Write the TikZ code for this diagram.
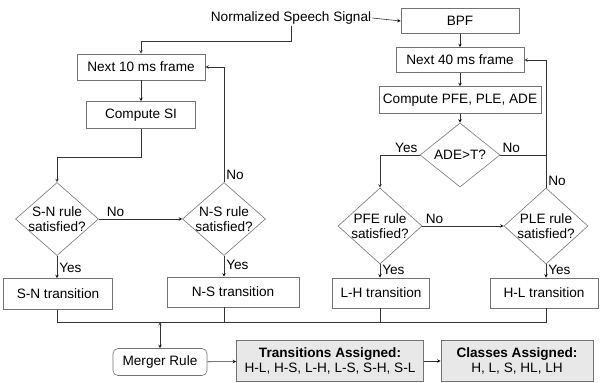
\documentclass[tikz,border=0pt]{standalone}
\usepackage{fontspec}
\setmainfont{Liberation Sans}
\usetikzlibrary{arrows,shapes.geometric}

\tikzset{
  box/.style={draw=black!55, line width=0.6pt, inner sep=0pt, minimum height=26pt},
  result/.style={box, fill=black!9, align=center, minimum height=41pt},
  decision/.style={diamond, draw=black!55, line width=0.6pt, inner sep=0pt},
  flow/.style={-stealth, draw=black!80, line width=0.6pt},
  wire/.style={draw=black!80, line width=0.6pt},
  lbl/.style={inner sep=2pt}
}

\begin{document}
\begin{tikzpicture}[x=1pt, y=-1pt, font=\fontsize{13.6}{15.5}\selectfont]
  \useasboundingbox (0,0) rectangle (600,383);
  % input and right branch
  \node[inner sep=1pt] (sig) at (291,18) {Normalized Speech Signal};
  \node[box, minimum width=118pt, minimum height=25pt] (bpf) at (460,21) {BPF};
  \node[box, minimum width=128pt, minimum height=25pt] (n40) at (460,60) {Next 40 ms frame};
  \node[box, minimum width=162pt, minimum height=27pt] (cpe) at (460,100) {Compute PFE, PLE, ADE};
  \node[decision, minimum width=80pt, minimum height=64pt,
    label=center:{ADE>T?}] (ade) at (460,155) {};
  \node[decision, minimum width=84pt, minimum height=76pt,
    label={[align=center]center:PFE rule\\satisfied?}] (pfe) at (380,226) {};
  \node[decision, minimum width=84pt, minimum height=76pt,
    label={[align=center]center:PLE rule\\satisfied?}] (ple) at (546,226) {};
  \node[box, minimum width=97pt, minimum height=30pt] (lht) at (381,293) {L-H transition};
  \node[box, minimum width=108pt, minimum height=30pt] (hlt) at (544,293) {H-L transition};
  % left branch
  \node[box, minimum width=128pt] (n10) at (141,67) {Next 10 ms frame};
  \node[box, minimum width=109pt, minimum height=27pt] (csi) at (141,115) {Compute SI};
  \node[decision, minimum width=83pt, minimum height=73pt,
    label={[align=center]center:S-N rule\\satisfied?}] (sn) at (57,219) {};
  \node[decision, minimum width=83pt, minimum height=73pt,
    label={[align=center]center:N-S rule\\satisfied?}] (ns) at (224,219) {};
  \node[box, minimum width=109pt, minimum height=31pt] (snt) at (58,294) {S-N transition};
  \node[box, minimum width=132pt, minimum height=30pt] (nst) at (233,292) {N-S transition};
  % output
  \coordinate (bus) at (160,322);
  \node[box, rounded corners=5pt, minimum width=94pt, minimum height=27pt] (mr) at (160,362) {Merger Rule};
  \node[result, minimum width=187pt] (ta) at (330,361) {\textbf{Transitions Assigned:}\\H-L, H-S, L-H, L-S, S-H, S-L};
  \node[result, minimum width=152pt] (ca) at (517,361) {\textbf{Classes Assigned:}\\H, L, S, HL, LH};

  \path[flow]
  (sig.east) edge (bpf.west)
  (bpf) edge (n40)
  (n40) edge (cpe)
  (cpe) edge (ade)
  (pfe) edge node [lbl, above, pos=0.15] {No} (ple)
  (pfe) edge node [lbl, right, pos=0.45] {Yes} (pfe |- lht.north)
  (ple) edge node [lbl, right, pos=0.45] {Yes} (ple |- hlt.north)
  (n10) edge (csi)
  (sn) edge node [lbl, above, pos=0.2] {No} (ns)
  (sn) edge node [lbl, right, pos=0.55] {Yes} (sn |- snt.north)
  (ns) edge node [lbl, right, pos=0.45] {Yes} (ns |- nst.north)
  (bus) edge (mr.north)
  (mr) edge (ta)
  (ta) edge (ca);

  \draw[flow] (sig.south) -- ++(0,16) -| (n10.north);
  \draw[flow] (csi.south) -- ++(0,28) -| (sn.north);
  \draw[flow] (ns.north) |- node [lbl, pos=0, above right] {No} (n10.east);
  \draw[flow] (ade.west) -| node [lbl, pos=0, above left] {Yes} (pfe.north);
  \draw[wire] (ade.east) -- node [lbl, pos=0, above right] {No} (ade.east -| ple.north);
  \draw[flow] (ple.north) |- node [lbl, pos=0, above right] {No} (n40.east);

  \draw[wire] (sn |- snt.south) -- (sn |- bus) -- (ple |- bus) -- (ple |- hlt.south);
  \draw[wire] (ns |- nst.south) -- (ns |- bus);
  \draw[wire] (pfe |- lht.south) -- (pfe |- bus);
\end{tikzpicture}
\end{document}
